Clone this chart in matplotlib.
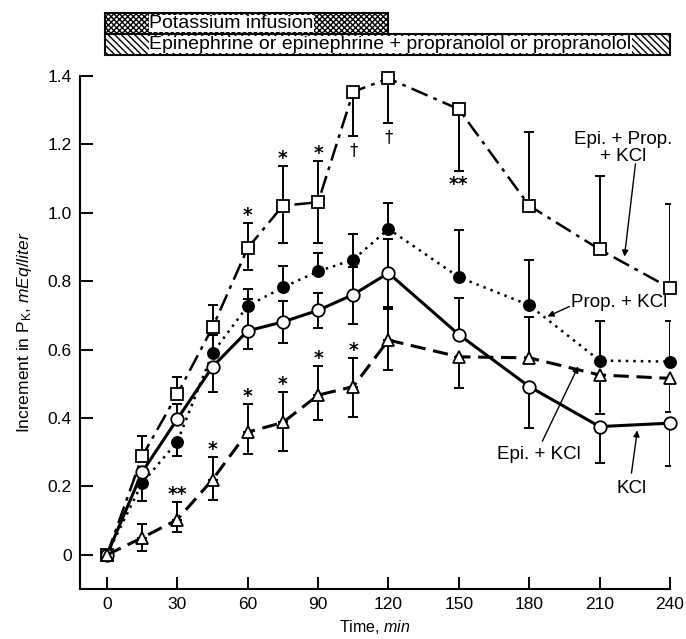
import matplotlib
matplotlib.use("Agg")
import matplotlib.pyplot as plt
from matplotlib.patches import Rectangle
import numpy as np

plt.rcParams["font.family"] = ["Liberation Sans", "DejaVu Sans"]
plt.rcParams["mathtext.fontset"] = "custom"
plt.rcParams["mathtext.rm"] = "Liberation Sans"
plt.rcParams["mathtext.it"] = "Liberation Sans:italic"
plt.rcParams["hatch.linewidth"] = 1.0

# temps (min)
time = [0, 15, 30, 45, 60, 75, 90, 105, 120, 150, 180, 210, 240]

# Epi. + Prop. + KCl (carrés)
epi_prop = [0, 0.288, 0.470, 0.665, 0.897, 1.021, 1.031, 1.354, 1.393, 1.303, 1.021, 0.893, 0.780]
epi_prop_hi = [0, 0.060, 0.050, 0.065, 0.073, 0.115, 0.120, 0, 0, 0, 0.216, 0.214, 0.246]
epi_prop_lo = [0, 0, 0, 0, 0.065, 0.109, 0.119, 0.130, 0.131, 0.180, 0, 0, 0]

# Prop. + KCl (ronds pleins)
prop = [0, 0.210, 0.331, 0.590, 0.728, 0.782, 0.829, 0.863, 0.953, 0.812, 0.730, 0.568, 0.565]
prop_hi = [0, 0, 0, 0.052, 0.048, 0.063, 0.054, 0.076, 0.076, 0.138, 0.133, 0.115, 0.118]
prop_lo = [0, 0.053, 0.043, 0, 0, 0, 0, 0, 0, 0, 0, 0, 0]

# KCl (ronds vides)
kcl = [0, 0.242, 0.397, 0.550, 0.655, 0.681, 0.715, 0.761, 0.824, 0.644, 0.492, 0.375, 0.385]
kcl_hi = [0, 0, 0.045, 0, 0.094, 0.062, 0.051, 0.081, 0.100, 0.107, 0, 0, 0]
kcl_lo = [0, 0, 0, 0.073, 0.052, 0.061, 0.051, 0.085, 0.100, 0, 0.120, 0.107, 0.126]

# Epi. + KCl (triangles)
epi = [0, 0.050, 0.103, 0.220, 0.359, 0.387, 0.467, 0.492, 0.628, 0.579, 0.576, 0.526, 0.516]
epi_hi = [0, 0.040, 0.052, 0.065, 0.081, 0.088, 0.085, 0.084, 0.090, 0, 0.120, 0, 0]
epi_lo = [0, 0.039, 0.036, 0.059, 0.065, 0.083, 0.073, 0.088, 0.088, 0.090, 0, 0.115, 0.097]

# signes de significativité : (série, temps, symbole, au-dessus ?)
sig_marks = [
    ("epi", 30, "**", True), ("epi", 45, "*", True), ("epi", 60, "*", True),
    ("epi", 75, "*", True), ("epi", 90, "*", True), ("epi", 105, "*", True),
    ("epi_prop", 60, "*", True), ("epi_prop", 75, "*", True), ("epi_prop", 90, "*", True),
    ("epi_prop", 105, "\u2020", False), ("epi_prop", 120, "\u2020", False),
    ("epi_prop", 150, "**", False),
]

# barres d'infusion en haut
infusions = ["Potassium infusion", "Epinephrine or epinephrine + propranolol or propranolol"]
infusion_start = [0, 0]
infusion_end = [120, 240]

x_ticks = [0, 30, 60, 90, 120, 150, 180, 210, 240]
y_ticks = [0, 0.2, 0.4, 0.6, 0.8, 1.0, 1.2, 1.4]
y_tick_labels = ["0", "0.2", "0.4", "0.6", "0.8", "1.0", "1.2", "1.4"]

series = {
    "epi_prop": (epi_prop, epi_prop_lo, epi_prop_hi),
    "prop": (prop, prop_lo, prop_hi),
    "kcl": (kcl, kcl_lo, kcl_hi),
    "epi": (epi, epi_lo, epi_hi),
}
styles = {
    "epi_prop": dict(ls=(0, (7, 2.5, 1.5, 2.5)), lw=1.8, marker="s", mfc="white", ms=8),
    "prop": dict(ls=(0, (1, 2)), lw=1.8, marker="o", mfc="black", ms=8),
    "kcl": dict(ls="-", lw=2.2, marker="o", mfc="white", ms=9),
    "epi": dict(ls=(0, (5, 2.5)), lw=2.2, marker="^", mfc="white", ms=9),
}

fig = plt.figure(figsize=(6.86, 6.39), dpi=100)
ax = fig.add_axes([0.1166, 0.0782, 0.860, 0.8028])

t = np.array(time)
for key, (vals, lo, hi) in series.items():
    vals, lo, hi = np.array(vals), np.array(lo), np.array(hi)
    # barres d'erreur d'un seul côté
    up = hi > 0
    ax.errorbar(t[up], vals[up], yerr=[np.zeros(up.sum()), hi[up]], fmt="none",
                ecolor="black", elinewidth=1.4, capsize=3.5, capthick=1.4, zorder=2)
    down = lo > 0
    ax.errorbar(t[down], vals[down], yerr=[lo[down], np.zeros(down.sum())], fmt="none",
                ecolor="black", elinewidth=1.4, capsize=3.5, capthick=1.4, zorder=2)
    st = styles[key]
    ax.plot(t, vals, color="black", linestyle=st["ls"], linewidth=st["lw"],
            marker=st["marker"], markerfacecolor=st["mfc"], markeredgecolor="black",
            markeredgewidth=1.3, markersize=st["ms"], zorder=3, clip_on=False)

for key, tm, sym, above in sig_marks:
    vals, lo, hi = series[key]
    i = time.index(tm)
    if above:
        y = vals[i] + hi[i] + 0.022
    else:
        y = vals[i] - lo[i] - 0.04
    if sym == "\u2020":
        ax.text(tm, y, sym, ha="center", va="center", fontsize=12, family="DejaVu Sans")
    else:
        ax.text(tm, y, sym, ha="center", va="center", fontsize=13.5, fontweight="bold",
                family="DejaVu Sans")

# étiquettes des courbes avec flèches
arrow = dict(arrowstyle="-|>", color="black", lw=1.0, mutation_scale=9, shrinkA=0, shrinkB=0)
ax.text(220, 1.19, "Epi. + Prop.\n+ KCl", ha="center", va="center", fontsize=13.5, linespacing=1.05)
ax.annotate("", xy=(220.6, 0.872), xytext=(225.3, 1.143), arrowprops=arrow)
ax.text(198, 0.738, "Prop. + KCl", ha="left", va="center", fontsize=13.5)
ax.annotate("", xy=(187.8, 0.697), xytext=(197.1, 0.726), arrowprops=arrow)
ax.text(184.3, 0.294, "Epi. + KCl", ha="center", va="center", fontsize=13.5)
ax.annotate("", xy=(200.9, 0.551), xytext=(185.6, 0.332), arrowprops=arrow)
ax.text(223.6, 0.195, "KCl", ha="center", va="center", fontsize=13.5)
ax.annotate("", xy=(226.1, 0.364), xytext=(223.6, 0.239), arrowprops=arrow)

# barres hachurées au-dessus du graphique
bar_y = [1.522, 1.461]
bar_h = 0.062
hatches = ["xxxxxx", "\\\\\\\\\\"]
for name, x0, x1, yb, hatch in zip(infusions, infusion_start, infusion_end, bar_y, hatches):
    rect = Rectangle((x0 - 1, yb), x1 - x0 + 1, bar_h, facecolor="white", edgecolor="black",
                     hatch=hatch, linewidth=1.5, clip_on=False)
    ax.add_patch(rect)
    ax.text(18, yb + bar_h / 2, name, ha="left", va="center", fontsize=14, clip_on=False,
            bbox=dict(facecolor="white", edgecolor="none", pad=0.2))

ax.set_xlim(-11.5, 240)
ax.set_ylim(-0.1, 1.4)
ax.set_xticks(x_ticks)
ax.set_yticks(y_ticks)
ax.set_yticklabels(y_tick_labels)
ax.tick_params(direction="in", length=9, width=1.4, labelsize=12.5, pad=6)
for side in ["top", "right"]:
    ax.spines[side].set_visible(False)
for side in ["left", "bottom"]:
    ax.spines[side].set_linewidth(1.5)

ax.set_xlabel("Time, $\\it{min}$", fontsize=11.5, labelpad=4)
ax.set_ylabel("Increment in P$_{\\rm K}$, $\\it{mEq/liter}$", fontsize=12.5, labelpad=10)

fig.savefig("out.png", dpi=100)
